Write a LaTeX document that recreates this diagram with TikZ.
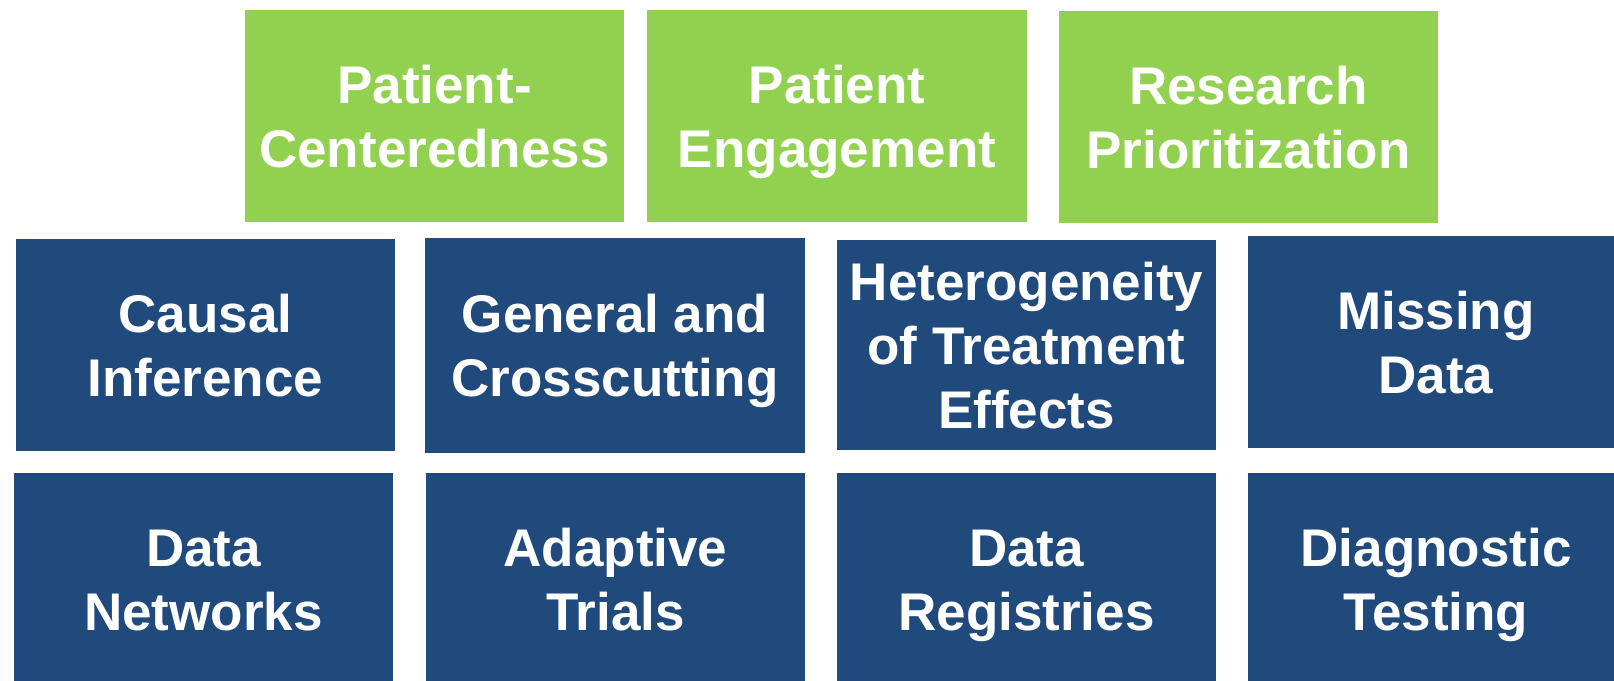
\documentclass[tikz,border=0pt]{standalone}
\usepackage{fontspec}
\setmainfont{Liberation Sans}
\definecolor{pgreen}{HTML}{92D050}
\definecolor{pblue}{HTML}{214A7C}
\begin{document}
\begin{tikzpicture}[x=1pt,y=1pt,
  tile/.style={inner sep=0pt, outer sep=0pt, draw=none, text=white, align=center,
    font=\fontsize{53}{64}\selectfont\bfseries, text depth=0pt},
  greentile/.style={tile, fill=pgreen},
  bluetile/.style={tile, fill=pblue},
  twolines/.style={text height=102pt},
  threelines/.style={text height=166pt}]
\useasboundingbox (0,0) rectangle (1614,-680);
% top row
\node[greentile, twolines, minimum width=379pt, minimum height=212pt] (pc) at (434.5,-116) {Patient-\\Centeredness};
\node[greentile, twolines, minimum width=380pt, minimum height=212pt] (pe) at (837,-116) {Patient\\Engagement};
\node[greentile, twolines, minimum width=379pt, minimum height=212pt] (rp) at (1248.5,-117) {Research\\Prioritization};
% middle row
\node[bluetile, twolines, minimum width=379pt, minimum height=212pt] (ci) at (205.5,-345) {Causal\\Inference};
\node[bluetile, twolines, minimum width=380pt, minimum height=215pt] (gc) at (615,-345.5) {General and\\Crosscutting};
\node[bluetile, threelines, minimum width=379pt, minimum height=210pt] (ht) at (1026.5,-345) {Heterogeneity\\of Treatment\\Effects};
\node[bluetile, twolines, minimum width=376pt, minimum height=212pt] (md) at (1436,-342) {Missing\\Data};
% bottom row
\node[bluetile, twolines, minimum width=379pt, minimum height=212pt] (dn) at (203.5,-579) {Data\\Networks};
\node[bluetile, twolines, minimum width=379pt, minimum height=212pt] (at) at (615.5,-579) {Adaptive\\Trials};
\node[bluetile, twolines, minimum width=379pt, minimum height=212pt] (dr) at (1026.5,-579) {Data\\Registries};
\node[bluetile, twolines, minimum width=376pt, minimum height=212pt] (dt) at (1436,-579) {Diagnostic\\Testing};
\end{tikzpicture}
\end{document}
